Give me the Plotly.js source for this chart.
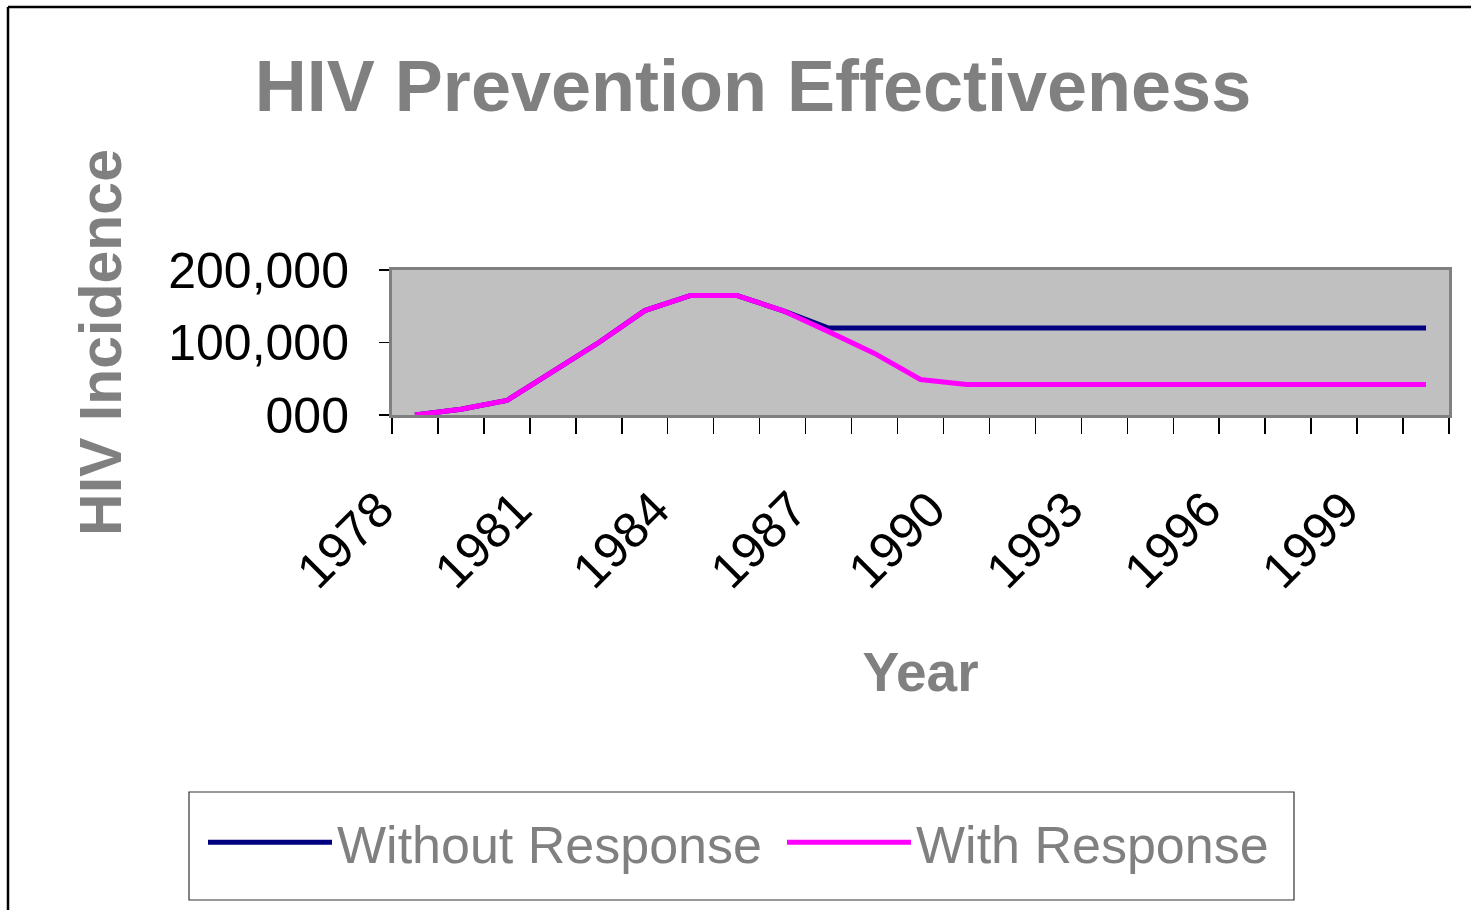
<!DOCTYPE html>
<html>
<head>
<meta charset="utf-8">
<script src="https://cdn.plot.ly/plotly-3.0.1.min.js"></script>
<style>
  html, body { margin: 0; padding: 0; background: #ffffff; }
  #chart { width: 1471px; height: 910px; }
</style>
</head>
<body>
<div id="chart"></div>
<script>
// ---- data ----
const years = [1978, 1979, 1980, 1981, 1982, 1983, 1984, 1985, 1986, 1987, 1988, 1989,
               1990, 1991, 1992, 1993, 1994, 1995, 1996, 1997, 1998, 1999, 2000];
const withoutResponse = [0, 8000, 20000, 60000, 100000, 144000, 165000, 165000, 144000, 120000, 120000, 120000,
                         120000, 120000, 120000, 120000, 120000, 120000, 120000, 120000, 120000, 120000, 120000];
const withResponse = [0, 8000, 20000, 60000, 100000, 144000, 165000, 165000, 144000, 115000, 85000, 49000,
                      42000, 42000, 42000, 42000, 42000, 42000, 42000, 42000, 42000, 42000, 42000];
const xTickYears = [1978, 1981, 1984, 1987, 1990, 1993, 1996, 1999];
const yTickVals = [0, 100000, 200000];
const yTickText = ["000", "100,000", "200,000"];
const seriesNames = ["Without Response", "With Response"];

// ---- layout geometry (px) ----
const W = 1471, H = 910;
const M = { l: 392, r: 22, t: 270, b: 495 };
const PW = W - M.l - M.r, PH = H - M.t - M.b;
const px2x = p => (p - M.l) / PW;
const py2y = p => 1 - (p - M.t) / PH;

const FONT = "Liberation Sans, Arial, sans-serif";
const GRAY = "#808080";

const traces = [
  { x: years, y: withoutResponse, name: seriesNames[0], type: "scatter", mode: "lines",
    line: { color: "#000080", width: 5 }, legend: "legend" },
  { x: years, y: withResponse, name: seriesNames[1], type: "scatter", mode: "lines",
    line: { color: "#FF00FF", width: 5 }, legend: "legend2" }
];

const legendCommon = {
  orientation: "h",
  xref: "container", yref: "container",
  xanchor: "left", yanchor: "top",
  bgcolor: "rgba(0,0,0,0)", borderwidth: 0,
  font: { family: FONT, size: 52, color: GRAY },
  itemwidth: 124
};

const layout = {
  width: W, height: H,
  margin: M,
  paper_bgcolor: "#ffffff",
  plot_bgcolor: "#C0C0C0",
  font: { family: FONT, color: "#000000" },
  title: {
    text: "HIV Prevention Effectiveness",
    font: { family: FONT, size: 72, color: GRAY, weight: "bold" },
    xref: "container", yref: "container",
    x: 753 / W, xanchor: "center",
    y: 1 - 86 / H, yanchor: "middle"
  },
  xaxis: {
    type: "linear",
    range: [1977.5, 2000.5],
    tickmode: "array",
    tickvals: xTickYears,
    ticktext: xTickYears.map(String),
    ticks: "",
    tickangle: -45,
    ticklabelshift: -36,
    ticklabelstandoff: 42,
    tickfont: { family: FONT, size: 50, color: "#000000" },
    minor: { tickmode: "linear", tick0: 1977.5, dtick: 1, ticks: "outside", ticklen: 16,
             tickwidth: 1.5, tickcolor: "#000000", showgrid: false },
    showgrid: false, zeroline: false,
    showline: true, linecolor: GRAY, linewidth: 3, mirror: true,
    title: { text: "Year", font: { family: FONT, size: 55, color: GRAY, weight: "bold" }, standoff: 55 }
  },
  yaxis: {
    range: [0, 200000],
    tickmode: "array",
    tickvals: yTickVals,
    ticktext: yTickText,
    ticks: "outside", ticklen: 10, tickwidth: 1.5, tickcolor: "#000000",
    ticklabelstandoff: 20,
    tickfont: { family: FONT, size: 50, color: "#000000" },
    showgrid: false, zeroline: false,
    showline: true, linecolor: GRAY, linewidth: 3, mirror: true,
    title: { text: "HIV Incidence", font: { family: FONT, size: 59, color: GRAY, weight: "bold" }, standoff: 28 }
  },
  showlegend: true,
  legend: Object.assign({}, legendCommon, { x: 203 / W, y: 1 - 802 / H }),
  legend2: Object.assign({}, legendCommon, { x: 782 / W, y: 1 - 802 / H }),
  shapes: [
    // outer chart-area frame (left and top edges visible)
    { type: "line", xref: "paper", yref: "paper", x0: px2x(8), x1: px2x(1490), y0: py2y(7), y1: py2y(7),
      line: { color: "#000000", width: 2.5 } },
    { type: "line", xref: "paper", yref: "paper", x0: px2x(8), x1: px2x(8), y0: py2y(7), y1: py2y(930),
      line: { color: "#000000", width: 2.5 } },
    // legend frame
    { type: "rect", xref: "paper", yref: "paper", layer: "below",
      x0: px2x(189), x1: px2x(1294), y0: py2y(792), y1: py2y(900),
      line: { color: "#333333", width: 1.2 }, fillcolor: "#ffffff" }
  ]
};

Plotly.newPlot("chart", traces, layout, { staticPlot: true, displayModeBar: false });
</script>
</body>
</html>
